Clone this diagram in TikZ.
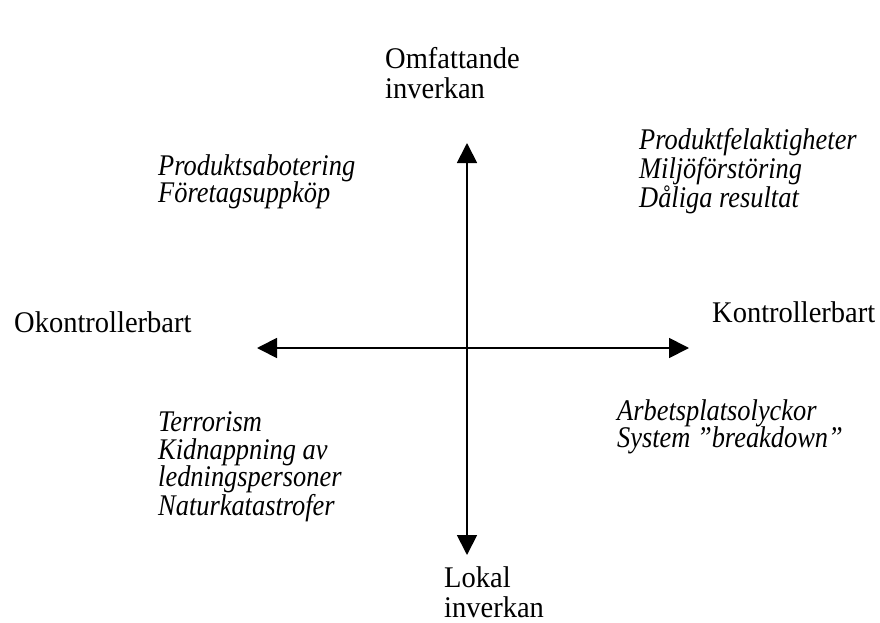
\documentclass[tikz,border=0pt]{standalone}
\usepackage{fontspec}
\setmainfont{Liberation Serif}
\newfontfamily\condrm{Liberation Serif}[FakeStretch=0.95]
\newfontfamily\condit{Liberation Serif}[FakeStretch=0.88]
\usetikzlibrary{arrows.meta}
\begin{document}
\begin{tikzpicture}[x=1pt,y=-1pt,
  axis/.style={line width=1.8pt,{Triangle[length=20pt,width=20pt]}-{Triangle[length=20pt,width=20pt]}},
  lbl/.style={anchor=west,inner sep=0pt,align=left,font=\condrm\fontsize{30}{29.5}\selectfont},
  item/.style={anchor=west,inner sep=0pt,align=left,font=\condit\itshape\fontsize{30}{27.5}\selectfont}]
\useasboundingbox (0,0) rectangle (880,623);
\coordinate (L) at (257,348);
\coordinate (R) at (689,348);
\coordinate (T) at (467,143);
\coordinate (B) at (467,555);
\draw[axis] (L) -- (R);
\draw[axis] (T) -- (B);
\node[lbl] (top) at (385,73) {Omfattande\\inverkan};
\node[lbl] (bot) at (444,592) {Lokal\\inverkan};
\node[lbl] (left) at (14,322) {Okontrollerbart};
\node[lbl] (right) at (712,312) {Kontrollerbart};
\node[item] (tr) at (639,171) {Produktfelaktigheter\\Miljöförstöring\\Dåliga resultat};
\node[item] (tl) at (158,182) {Produktsabotering\\Företagsuppköp};
\node[item] (bl) at (158,467) {Terrorism\\Kidnappning av\\ledningspersoner\\Naturkatastrofer};
\node[item] (br) at (617,427) {Arbetsplatsolyckor\\System ”breakdown”};
\end{tikzpicture}
\end{document}
